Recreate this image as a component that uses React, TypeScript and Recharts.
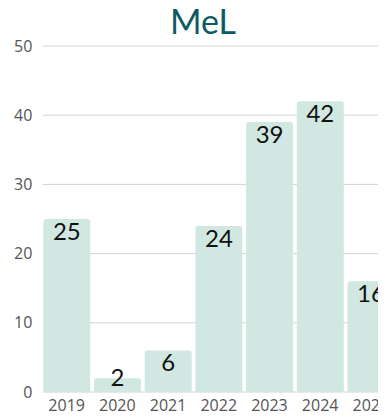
import React from 'react';
import { BarChart, Bar, XAxis, YAxis, CartesianGrid, LabelList } from 'recharts';

// Yearly counts for MeL
const years = ['2019', '2020', '2021', '2022', '2023', '2024', '2025'];
const counts = [25, 2, 6, 24, 39, 42, 16];
const yTicks = [0, 10, 20, 30, 40, 50];

const data = years.map((year, i) => ({ year, count: counts[i] }));

const BAR_COLOR = '#d1e7e1';
const TITLE_COLOR = '#0e5a64';

// Value label sitting just inside the top of each bar, kept clear of the axis for short bars
const ValueLabel = (props: any) => {
  const { x, y, width, height, value } = props;
  const baseline = Math.min(y + 21, y + height - 6);
  return (
    <text
      x={x + width / 2}
      y={baseline}
      textAnchor="middle"
      fill="#111"
      fontFamily="Lato, sans-serif"
      fontSize={24}
    >
      {value}
    </text>
  );
};

const tickStyle = { fill: '#555', fontSize: 16, fontFamily: '"Open Sans", sans-serif' };

export default function App() {
  return (
    <div
      style={{
        position: 'relative',
        margin: '-8px 0 0 -8px',
        width: 386,
        height: 419,
        overflow: 'hidden',
        background: '#fff',
      }}
    >
      <div
        style={{
          position: 'absolute',
          left: 20,
          top: 2,
          width: 366,
          textAlign: 'center',
          fontFamily: 'Lato, sans-serif',
          fontSize: 34,
          lineHeight: '38px',
          color: TITLE_COLOR,
        }}
      >
        MeL
      </div>
      <div style={{ position: 'absolute', left: 0, top: 0 }}>
        <BarChart
          width={400}
          height={419}
          data={data}
          margin={{ top: 46, right: 3.8, bottom: 0, left: 0 }}
          barCategoryGap={2}
        >
          <CartesianGrid vertical={false} stroke="#d2d2d2" x={43} width={400} />
          <XAxis
            dataKey="year"
            axisLine={false}
            tickLine={false}
            tickSize={0}
            tickMargin={8}
            height={27}
            interval={0}
            tick={tickStyle}
          />
          <YAxis
            domain={[0, 50]}
            ticks={yTicks}
            width={41.3}
            axisLine={false}
            tickLine={false}
            tickSize={0}
            tickMargin={9}
            tick={tickStyle}
          />
          <Bar dataKey="count" fill={BAR_COLOR} radius={[3, 3, 0, 0]} isAnimationActive={false}>
            <LabelList dataKey="count" content={ValueLabel} />
          </Bar>
        </BarChart>
      </div>
    </div>
  );
}
